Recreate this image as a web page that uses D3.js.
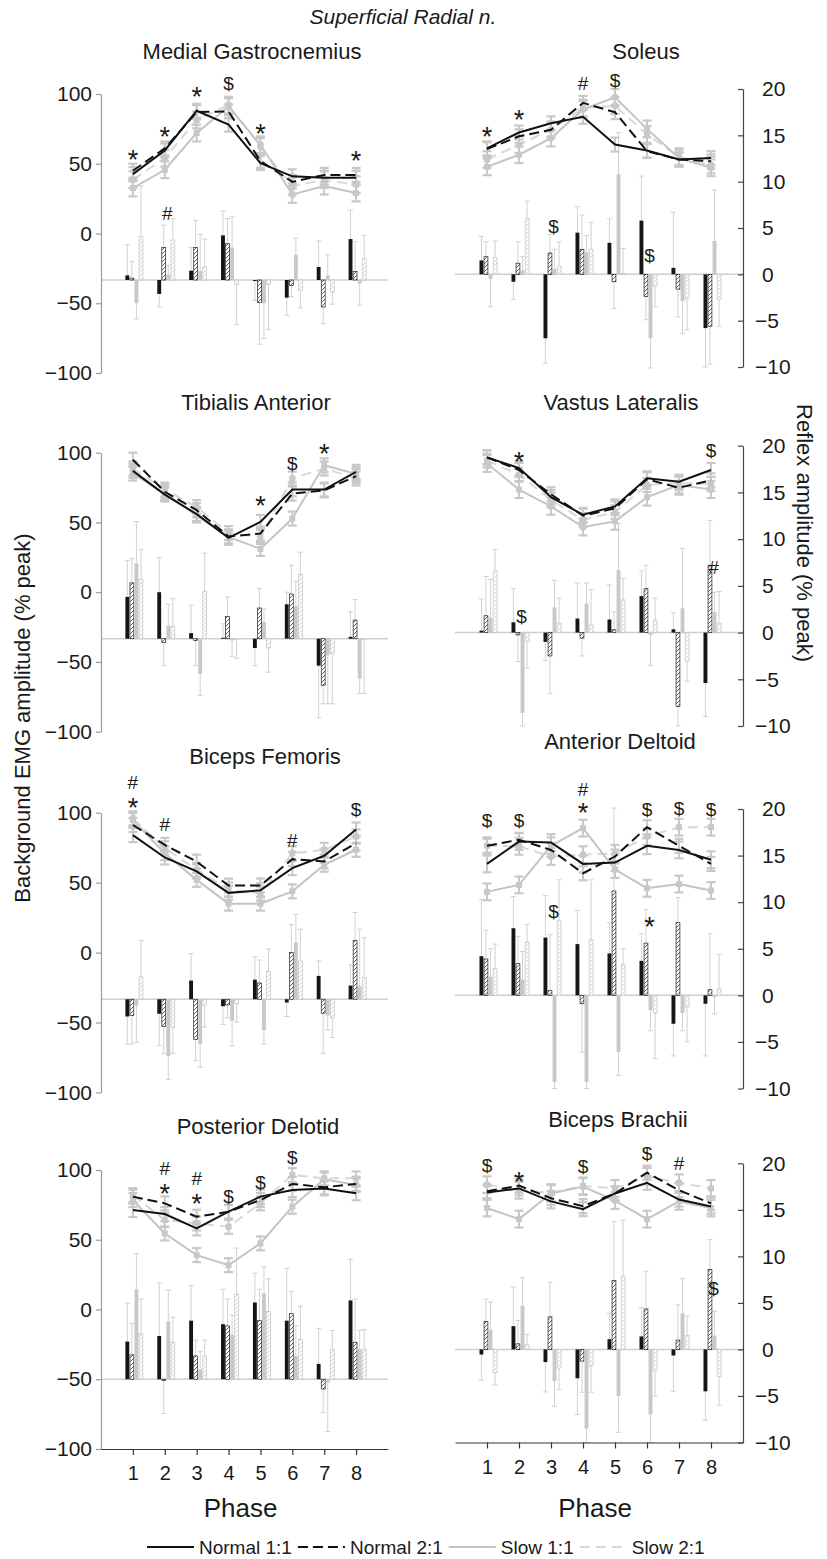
<!DOCTYPE html>
<html>
<head>
<meta charset="utf-8">
<script src="https://cdn.jsdelivr.net/npm/d3@7"></script>
<style>
  body { margin: 0; background: #fff; }
  svg text { font-family: "Liberation Sans", Arial, sans-serif; fill: #1a1a1a; }
</style>
</head>
<body>
<svg id="chart" width="827" height="1559"></svg>
<script>
// ---- shared categories ----
const phases = [1, 2, 3, 4, 5, 6, 7, 8];
const seriesNames = ["Normal 1:1", "Normal 2:1", "Slow 1:1", "Slow 2:1"];
const emgTicks = [-100, -50, 0, 50, 100];
const reflexTicks = [-10, -5, 0, 5, 10, 15, 20];
const stdReflexRange = [-10, 20];
const pdReflexRange = [-10, 30];
const figureTitle = "Superficial Radial n.";
const emgAxisTitle = "Background EMG amplitude (% peak)";
const reflexAxisTitle = "Reflex amplitude (% peak)";
const phaseTitle = "Phase";

// ---- Medial Gastrocnemius ----
const mgTitle = "Medial Gastrocnemius";
const mgEmg = [
  [42.6, 59.5, 88, 78, 50.5, 41, 40, 40],
  [45, 61, 87, 87.5, 52, 37, 42, 42],
  [32.6, 45.7, 72, 91, 63.6, 28, 34, 29],
  [38.6, 54, 81.4, 92, 62.4, 34, 38.6, 35]];
const mgEmgErr = [5, 5, 6, 6];
const mgReflex = [
  [0.5, -1.5, 1.0, 4.8, -0.1, -1.9, 1.4, 4.4],
  [0.2, 3.5, 3.5, 3.9, -2.4, -0.6, -2.9, 0.9],
  [-2.5, 0.6, 1.0, 3.5, -2.5, 2.7, 0.5, -0.4],
  [4.7, 4.3, 1.4, -0.5, -0.5, -1.1, -1.3, 2.3]];
const mgReflexErr = [
  [3.3, 1.4, 2.5, 2.6, 2.1, 1.9, 2.8, 3.1],
  [1.8, 2.4, 2.9, 2.7, 4.5, 1.2, 1.8, 3.2],
  [1.7, 1.0, 3.9, 3.3, 3.8, 1.8, 2.2, 2.3],
  [5.4, 2.3, 3.0, 4.3, 4.8, 1.9, 1.3, 2.5]];
const mgLineMarks = [[1, "*", 57.7], [2, "*", 74.2], [3, "*", 102.9], [4, "$", 107.7], [5, "*", 76.6], [8, "*", 57]];
const mgBarMarks = [[2, "#", 7.2]];

// ---- Soleus ----
const solTitle = "Soleus";
const solEmg = [
  [57.3, 68.7, 75.3, 80, 60, 55.7, 49.3, 50.3],
  [56.7, 66, 70.7, 90, 83.3, 55.3, 49.3, 48],
  [44, 52.7, 64.7, 85.3, 94, 71.3, 50.3, 43.3],
  [49.3, 60, 70.7, 86.3, 88, 67.3, 51.3, 45.3]];
const solEmgErr = [5, 5, 6, 6];
const solReflex = [
  [1.5, -0.8, -6.9, 4.5, 3.4, 5.8, 0.7, -5.8],
  [1.9, 1.2, 2.3, 2.7, -0.8, -2.4, -1.6, -5.6],
  [-0.5, 0.4, 0.6, 2.4, 10.8, -6.9, -2.9, 3.6],
  [1.8, 6.0, 0.9, 2.7, 0.1, -1.3, -2.6, -2.7]];
const solReflexErr = [
  [2.6, 1.9, 2.7, 2.8, 2.6, 4.8, 6.0, 4.2],
  [1.6, 2.3, 2.0, 3.7, 2.9, 2.5, 3.0, 4.1],
  [3.0, 1.5, 2.1, 1.8, 4.5, 3.2, 3.5, 5.5],
  [1.8, 1.9, 2.6, 2.9, 2.7, 2.2, 3.4, 2.9]];
const solLineMarks = [[1, "*", 70.5], [2, "*", 82.5], [4, "#", 104.3], [5, "$", 106.5]];
const solBarMarks = [[3, "$", 5.25], [6, "$", 2.1]];

// ---- Tibialis Anterior ----
const taTitle = "Tibialis Anterior";
const taEmg = [
  [87, 70, 56, 39, 50.4, 73.6, 73.6, 86.3],
  [95, 72, 58.8, 40, 42, 70.7, 73, 83.2],
  [85, 70.7, 55, 39.6, 31, 52.8, 91, 84.7],
  [88.7, 73.6, 61, 42.4, 39.6, 81.5, 88.7, 81.5]];
const taEmgErr = [5, 5, 5, 5];
const taReflex = [
  [4.5, 5.0, 0.6, 0.1, -1.0, 3.7, -2.9, 0.2],
  [6.0, -0.4, -0.2, 2.4, 3.3, 4.8, -5.0, 2.0],
  [8.1, 1.4, -3.8, -0.2, 1.8, 3.5, -1.8, -4.3],
  [6.4, 1.3, 5.1, -0.1, -1.0, 6.9, -1.6, -0.1]];
const taReflexErr = [
  [3.9, 3.7, 3.0, 1.5, 1.9, 1.3, 5.6, 2.7],
  [2.6, 2.5, 2.7, 2.1, 2.1, 3.1, 2.0, 2.2],
  [4.5, 2.3, 2.3, 1.7, 1.4, 2.7, 5.2, 1.6],
  [3.2, 3.0, 4.1, 2.0, 2.6, 2.4, 5.4, 5.8]];
const taLineMarks = [[5, "*", 66.8], [6, "$", 92.4], [7, "*", 104.3]];
const taBarMarks = [];

// ---- Vastus Lateralis ----
const vlTitle = "Vastus Lateralis";
const vlEmg = [
  [91.7, 84, 63.3, 50.7, 56.7, 76.7, 74.3, 82.7],
  [91.7, 82.7, 65.3, 50, 55.3, 76, 70, 75.3],
  [87.3, 68.7, 56.7, 42, 46, 63.3, 72, 68.7],
  [89.3, 79.3, 61.3, 47, 52.7, 72, 73.3, 72.7]];
const vlEmgErr = [5, 5, 6, 5];
const vlReflex = [
  [0.2, 1.1, -1.0, 1.5, 1.4, 3.9, 0.35, -5.4],
  [1.8, -0.25, -2.5, -0.6, 0.3, 4.7, -7.9, 7.2],
  [1.6, -8.6, 2.7, 3.1, 6.7, -0.25, 2.6, 2.2],
  [6.6, -1.0, 1.0, 0.8, 3.5, 1.35, -3.1, 1.0]];
const vlReflexErr = [
  [3.4, 3.6, 2.0, 3.8, 3.7, 2.7, 1.75, 3.6],
  [4.2, 2.85, 4.0, 1.9, 1.9, 2.5, 2.1, 4.8],
  [4.1, 1.4, 2.9, 2.2, 5.0, 3.25, 6.4, 2.1],
  [2.3, 2.8, 2.7, 3.8, 2.3, 2.35, 2.1, 3.4]];
const vlLineMarks = [[2, "*", 93.3], [8, "$", 96.9]];
const vlBarMarks = [[2, "$", 1.8], [8, "#", 7.05]];

// ---- Biceps Femoris ----
const bfTitle = "Biceps Femoris";
const bfEmg = [
  [84, 68, 58, 42.7, 44.5, 60.4, 69.2, 88],
  [91.2, 77, 65, 47.9, 48, 66.8, 65.2, 78.2],
  [94.8, 71, 52, 35, 35, 43.8, 62.8, 73.5],
  [96, 74.6, 59.2, 45, 42.2, 71, 73.5, 83]];
const bfEmgErr = [5, 5, 5, 5];
const bfReflex = [
  [-1.85, -1.56, 2.0, -0.75, 2.1, -0.35, 2.5, 1.46],
  [-1.74, -2.9, -4.3, -0.6, 1.74, 5.0, -1.5, 6.3],
  [-0.7, -6.1, -4.8, -2.3, -3.3, 6.1, -1.75, 1.4],
  [2.4, -3.0, -0.7, -0.5, 3.0, 4.1, -2.0, 2.35]];
const bfReflexErr = [
  [2.95, 3.4, 2.9, 1.95, 2.45, 1.5, 1.6, 2.24],
  [3.06, 2.9, 2.3, 1.4, 2.46, 3.0, 4.3, 3.0],
  [3.9, 2.5, 2.5, 2.7, 1.5, 3.0, 1.55, 6.1],
  [3.9, 2.8, 2.3, 1.95, 2.4, 3.4, 2.1, 4.25]];
const bfLineMarks = [[1, "*", 108.2], [1, "#", 121.8], [2, "#", 91.5], [6, "#", 80.7], [8, "$", 102.2]];
const bfBarMarks = [];

// ---- Anterior Deltoid ----
const adTitle = "Anterior Deltoid";
const adEmg = [
  [60.7, 76.7, 76, 60.7, 61.7, 73.7, 70.7, 63.7],
  [73.7, 78, 70.7, 54, 66, 87, 73.7, 60.7],
  [40.7, 45.7, 73.7, 86.3, 56.7, 43.3, 46.3, 41.7],
  [73.7, 73.3, 66, 67.3, 68.3, 80.3, 87, 87]];
const adEmgErr = [6, 5, 6, 6];
const adReflex = [
  [4.2, 7.2, 6.2, 5.5, 4.5, 3.7, -3.05, -0.9],
  [3.9, 3.4, 0.5, -0.9, 11.2, 5.6, 7.8, 0.6],
  [2.0, 1.7, -9.3, -9.3, -6.1, -1.6, -1.9, -0.2],
  [2.9, 5.7, 8.0, 6.0, 3.3, -1.9, -1.25, 0.7]];
const adReflexErr = [
  [6.1, 3.4, 4.5, 3.6, 3.3, 2.9, 3.45, 5.6],
  [3.1, 2.9, 6.0, 5.2, 8.9, 3.6, 2.7, 6.0],
  [3.0, 3.0, 0.7, 0.7, 2.5, 2.2, 1.9, 1.8],
  [2.6, 1.9, 4.4, 6.4, 1.7, 4.9, 3.75, 3.7]];
const adLineMarks = [[1, "$", 92.1], [2, "$", 92.1], [4, "*", 102.1], [4, "#", 114.3], [6, "$", 100], [7, "$", 100.7], [8, "$", 100]];
const adBarMarks = [[3, "$", 9.0], [6, "*", 8.1]];

// ---- Posterior Delotid ----
const pdTitle = "Posterior Delotid";
const pdEmg = [
  [71.3, 68.4, 58.1, 70.1, 80.9, 85.6, 86.8, 83.3],
  [80.9, 76.1, 66.5, 70.1, 78.5, 90, 87.6, 90],
  [78.5, 54.5, 39, 31.8, 47.4, 73.7, 93.3, 89.2],
  [82, 64.1, 61.7, 59.3, 76.1, 96.4, 94, 94]];
const pdEmgErr = [5, 5, 5, 5];
const pdReflex = [
  [5.4, 6.2, 8.4, 7.9, 11.0, 8.4, 2.2, 11.3],
  [3.5, -0.2, 3.35, 7.65, 8.4, 9.4, -1.4, 5.3],
  [12.9, 8.3, 1.4, 6.4, 12.3, 3.35, -0.5, 4.3],
  [6.5, 5.3, 3.35, 12.2, 9.7, 5.7, 4.3, 4.3]];
const pdReflexErr = [
  [5.5, 7.6, 5.0, 5.0, 4.2, 7.5, 5.1, 5.9],
  [4.5, 4.7, 2.25, 3.85, 4.5, 3.2, 3.4, 6.2],
  [5.1, 4.5, 2.6, 2.8, 3.8, 4.3, 7.0, 2.7],
  [5.0, 3.6, 2.25, 6.6, 4.7, 4.8, 2.7, 2.8]];
const pdLineMarks = [[2, "*", 87.8], [2, "#", 101.5], [3, "*", 80.6], [3, "#", 94.5], [4, "$", 80.9], [5, "$", 91.6], [6, "$", 109.5]];
const pdBarMarks = [];

// ---- Biceps Brachii ----
const bbTitle = "Biceps Brachii";
const bbEmg = [
  [79, 82, 72.7, 67.1, 78.4, 86, 74, 69],
  [80, 84, 75, 69.3, 78.4, 93.3, 80.7, 71.3],
  [68, 60, 78.4, 83.3, 73.3, 60, 72.7, 68],
  [84.7, 80.7, 79, 83.8, 82, 90.7, 86, 82]];
const bbEmgErr = [5, 5, 6, 6];
const bbReflex = [
  [-0.55, 2.5, -1.36, -3.1, 1.1, 1.4, -0.65, -4.5],
  [3.0, 0.6, 3.5, -1.25, 7.4, 4.35, 1.0, 8.6],
  [2.1, 4.7, -3.4, -8.5, -5.0, -7.0, 3.9, 1.5],
  [-2.5, 0.5, -2.0, -1.8, 7.9, -2.3, 1.5, -2.9]];
const bbReflexErr = [
  [2.75, 4.2, 3.2, 3.9, 2.8, 3.1, 3.85, 3.1],
  [2.4, 2.5, 3.7, 3.35, 6.35, 4.05, 3.8, 3.2],
  [3.0, 3.0, 2.7, 1.5, 3.9, 3.0, 3.7, 2.6],
  [1.3, 1.1, 2.3, 2.8, 6.0, 2.7, 2.1, 3.1]];
const bbLineMarks = [[1, "$", 98.8], [2, "*", 91.6], [4, "$", 98.1], [6, "$", 107.6], [7, "#", 100]];
const bbBarMarks = [[8, "$", 6.6]];

// ---- panel table, in reading order (left/right, top to bottom) ----
const panels = [
  { title: mgTitle, emg: mgEmg, emgErr: mgEmgErr, reflex: mgReflex, reflexErr: mgReflexErr, lineMarks: mgLineMarks, barMarks: mgBarMarks, reflexRange: stdReflexRange },
  { title: solTitle, emg: solEmg, emgErr: solEmgErr, reflex: solReflex, reflexErr: solReflexErr, lineMarks: solLineMarks, barMarks: solBarMarks, reflexRange: stdReflexRange },
  { title: taTitle, emg: taEmg, emgErr: taEmgErr, reflex: taReflex, reflexErr: taReflexErr, lineMarks: taLineMarks, barMarks: taBarMarks, reflexRange: stdReflexRange },
  { title: vlTitle, emg: vlEmg, emgErr: vlEmgErr, reflex: vlReflex, reflexErr: vlReflexErr, lineMarks: vlLineMarks, barMarks: vlBarMarks, reflexRange: stdReflexRange },
  { title: bfTitle, emg: bfEmg, emgErr: bfEmgErr, reflex: bfReflex, reflexErr: bfReflexErr, lineMarks: bfLineMarks, barMarks: bfBarMarks, reflexRange: stdReflexRange },
  { title: adTitle, emg: adEmg, emgErr: adEmgErr, reflex: adReflex, reflexErr: adReflexErr, lineMarks: adLineMarks, barMarks: adBarMarks, reflexRange: stdReflexRange },
  { title: pdTitle, emg: pdEmg, emgErr: pdEmgErr, reflex: pdReflex, reflexErr: pdReflexErr, lineMarks: pdLineMarks, barMarks: pdBarMarks, reflexRange: pdReflexRange },
  { title: bbTitle, emg: bbEmg, emgErr: bbEmgErr, reflex: bbReflex, reflexErr: bbReflexErr, lineMarks: bbLineMarks, barMarks: bbBarMarks, reflexRange: stdReflexRange }
];

// ---- layout ----
const colX = [[101, 388], [455, 743]];
const rowY = [
  [[94, 373], [452.7, 731.7], [812.7, 1092.5], [1170, 1449]],
  [[89, 367], [445.7, 726], [809, 1088.5], [1163.3, 1442.5]]
];
const titlePos = [[252, 59], [646, 59], [256, 410], [621, 410], [265, 764], [620, 749], [258, 1134], [618, 1127]];

// ---- styles ----
const FONT = '"Liberation Sans", Arial, sans-serif';
const lineColor = ["#111111", "#111111", "#c4c4c4", "#d8d8d8"];
const lineDash = [null, "10,5", null, "10,6"];
const errColor = "#c8c8c8";
const barStroke = ["none", "#222222", "none", "#c4c4c4"];

const svg = d3.select("#chart");
const defs = svg.append("defs");
function hatch(id, color) {
  const p = defs.append("pattern").attr("id", id)
    .attr("patternUnits", "userSpaceOnUse").attr("width", 4).attr("height", 4);
  p.append("rect").attr("width", 4).attr("height", 4).attr("fill", "#fff");
  p.append("path").attr("d", "M-1,1 l2,-2 M0,4 l4,-4 M3,5 l2,-2")
    .attr("stroke", color).attr("stroke-width", 0.7);
}
hatch("hatchDark", "#222");
hatch("hatchLight", "#bdbdbd");
const barFill = ["#151515", "url(#hatchDark)", "#c8c8c8", "url(#hatchLight)"];

// Significance symbols; symbols sharing one phase are stacked in a single text element.
function drawMarks(g, marks, xOf, yOf, dx) {
  const byPhase = d3.group(marks, d => d[0]);
  byPhase.forEach((list, ph) => {
    const t = g.append("text").attr("text-anchor", "middle");
    list.forEach(([, sym, lvl]) => {
      const size = sym === "*" ? 27 : 19;
      const lift = sym === "*" ? 0.59 : 0.36;
      t.append("tspan").attr("x", xOf(ph) + dx).attr("y", yOf(lvl) + size * lift)
        .attr("font-size", size).text(sym);
    });
  });
}

panels.forEach((p, idx) => {
  const col = idx % 2, row = Math.floor(idx / 2);
  const [x0, x1] = colX[col];
  const [yt, yb] = rowY[col][row];
  const x = d3.scaleLinear().domain([0, 9]).range([x0, x1]);
  const yE = d3.scaleLinear().domain([-100, 100]).range([yb, yt]);
  const yR = d3.scaleLinear().domain(p.reflexRange).range([yb, yt]);
  const sub = d3.scaleBand().domain(d3.range(seriesNames.length)).range([-7.5, 10]).paddingInner(0.15);
  const bw = sub.bandwidth();
  const g = svg.append("g");

  // title
  g.append("text").attr("x", titlePos[idx][0]).attr("y", titlePos[idx][1])
    .attr("text-anchor", "middle").attr("font-size", 22).text(p.title);

  // reflex zero line
  g.append("line").attr("x1", x0).attr("x2", x1)
    .attr("y1", yR(0)).attr("y2", yR(0))
    .attr("stroke", "#cfcfcf").attr("stroke-width", 1.5);

  // reflex bars: error whiskers first, then bars
  p.reflex.forEach((vals, s) => {
    vals.forEach((v, i) => {
      const cx = x(phases[i]) + sub(s) + bw / 2;
      const tip = v >= 0 ? v + p.reflexErr[s][i] : v - p.reflexErr[s][i];
      g.append("line").attr("x1", cx).attr("x2", cx)
        .attr("y1", yR(v)).attr("y2", yR(tip))
        .attr("stroke", "#d2d2d2").attr("stroke-width", 1);
      g.append("line").attr("x1", cx - 2.6).attr("x2", cx + 2.6)
        .attr("y1", yR(tip)).attr("y2", yR(tip))
        .attr("stroke", "#d2d2d2").attr("stroke-width", 1);
    });
  });
  p.reflex.forEach((vals, s) => {
    g.selectAll(null).data(vals).enter().append("rect")
      .attr("x", (v, i) => x(phases[i]) + sub(s))
      .attr("width", bw)
      .attr("y", v => Math.min(yR(v), yR(0)))
      .attr("height", v => Math.abs(yR(v) - yR(0)))
      .attr("fill", barFill[s])
      .attr("stroke", barStroke[s])
      .attr("stroke-width", 0.7);
  });

  // background EMG lines
  const line = d3.line().x((d, i) => x(phases[i])).y(d => yE(d));
  const drawLine = s => {
    g.append("path").datum(p.emg[s]).attr("d", line)
      .attr("fill", "none").attr("stroke", lineColor[s]).attr("stroke-width", 2)
      .attr("stroke-dasharray", lineDash[s]);
  };
  drawLine(3);
  drawLine(2);
  // EMG error bars
  p.emg.forEach((vals, s) => {
    vals.forEach((v, i) => {
      const cx = x(phases[i]);
      const lo = yE(v - p.emgErr[s]), hi = yE(v + p.emgErr[s]);
      g.append("line").attr("x1", cx).attr("x2", cx).attr("y1", lo).attr("y2", hi)
        .attr("stroke", errColor).attr("stroke-width", 2);
      [lo, hi].forEach(yy => g.append("line").attr("x1", cx - 4.5).attr("x2", cx + 4.5)
        .attr("y1", yy).attr("y2", yy).attr("stroke", errColor).attr("stroke-width", 2.2));
    });
  });
  // square markers on the slow-walking series
  [2, 3].forEach(s => {
    g.selectAll(null).data(p.emg[s]).enter().append("rect")
      .attr("x", (v, i) => x(phases[i]) - 3).attr("y", v => yE(v) - 3)
      .attr("width", 6).attr("height", 6).attr("fill", "#c8c8c8");
  });
  drawLine(1);
  drawLine(0);

  // significance symbols
  drawMarks(g, p.lineMarks, x, yE, 0);
  drawMarks(g, p.barMarks, x, yR, 2.5);

  // axes
  if (col === 0) {
    const ax = g.append("g").attr("transform", `translate(${x0},0)`)
      .call(d3.axisLeft(yE).tickValues(emgTicks).tickSizeInner(5).tickSizeOuter(0).tickPadding(4));
    ax.attr("font-family", FONT).attr("font-size", 21);
    ax.selectAll("path, line").attr("stroke", "#9c9c9c").attr("stroke-width", 1.2);
    ax.selectAll("text").attr("fill", "#1a1a1a");
  } else {
    const ax = g.append("g").attr("transform", `translate(${x1},0)`)
      .call(d3.axisRight(yR).tickValues(reflexTicks).tickSizeInner(-5).tickSizeOuter(0).tickPadding(19));
    ax.attr("font-family", FONT).attr("font-size", 21);
    ax.selectAll("path, line").attr("stroke", "#444").attr("stroke-width", 1.2);
    ax.selectAll("text").attr("fill", "#1a1a1a").attr("dx", d => d < 0 ? -7 : 0);
  }
  if (row === 3) {
    const bx = g.append("g").attr("transform", `translate(0,${yb})`)
      .call(d3.axisBottom(x).tickValues(phases).tickSizeInner(6).tickSizeOuter(0).tickPadding(11));
    bx.attr("font-family", FONT).attr("font-size", 20);
    bx.selectAll("path, line").attr("stroke", "#333").attr("stroke-width", 1.2);
    bx.selectAll("text").attr("fill", "#1a1a1a");
    svg.append("text").attr("x", (x0 + x1) / 2 - 4).attr("y", 1517)
      .attr("text-anchor", "middle").attr("font-size", 26).text(phaseTitle);
  }
});

// figure title and axis titles
svg.append("text").attr("x", 403).attr("y", 24).attr("text-anchor", "middle")
  .attr("font-size", 21).attr("font-style", "italic").text(figureTitle);
svg.append("text").attr("transform", "translate(30,718) rotate(-90)")
  .attr("text-anchor", "middle").attr("font-size", 22).text(emgAxisTitle);
svg.append("text").attr("transform", "translate(797,533) rotate(90)")
  .attr("text-anchor", "middle").attr("font-size", 22).text(reflexAxisTitle);

// legend
const legend = svg.append("g");
let lx = 147;
const ly = 1547;
seriesNames.forEach((name, s) => {
  legend.append("line").attr("x1", lx).attr("x2", lx + 47).attr("y1", ly).attr("y2", ly)
    .attr("stroke", lineColor[s]).attr("stroke-width", 2.2).attr("stroke-dasharray", lineDash[s]);
  const t = legend.append("text").attr("x", lx + 52).attr("y", ly + 7)
    .attr("font-size", 19).text(name);
  lx += 52 + t.node().getComputedTextLength() + 6;
});
</script>
</body>
</html>
